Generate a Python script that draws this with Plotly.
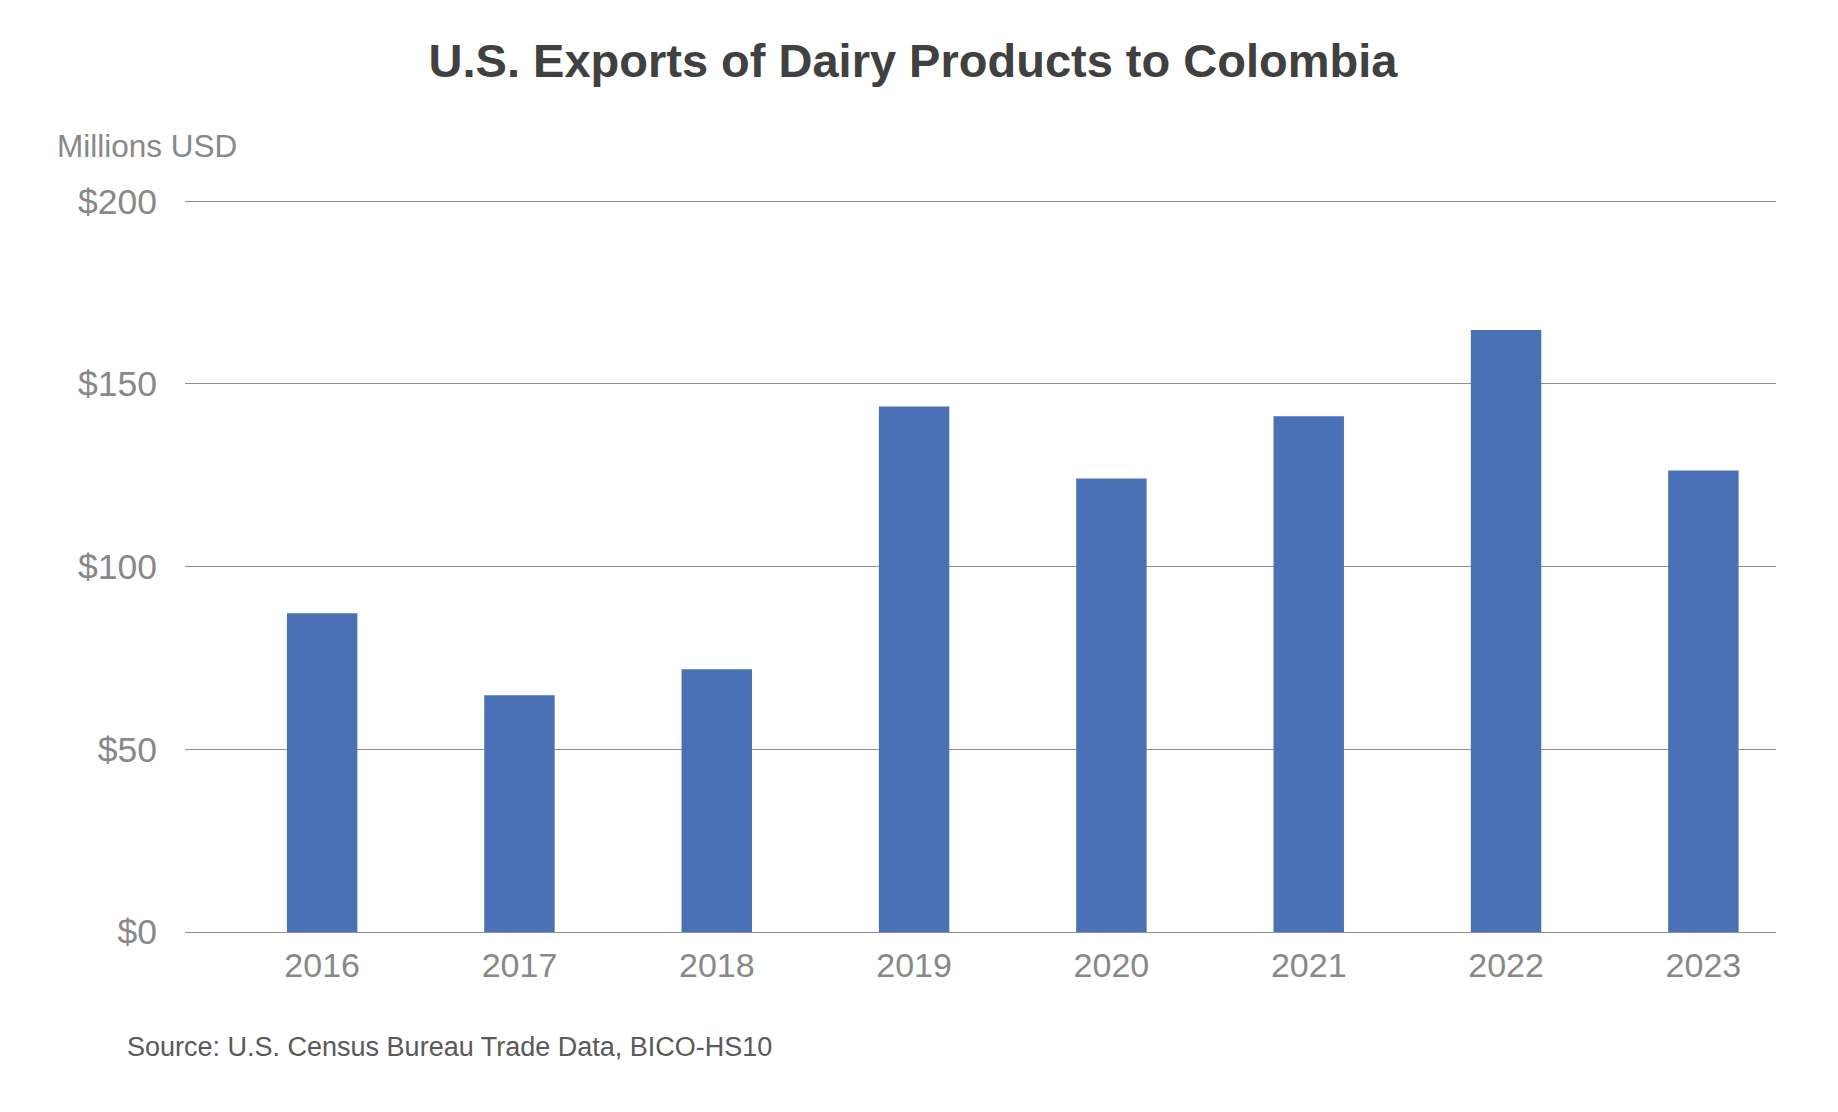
import plotly.graph_objects as go

years = ["2016", "2017", "2018", "2019", "2020", "2021", "2022", "2023"]
exports_musd = [87.2, 64.8, 71.9, 143.8, 124.1, 141.1, 164.7, 126.3]
y_tickvals = [0, 50, 100, 150, 200]
y_ticktext = ["$0", "$50", "$100", "$150", "$200"]

FONT = "Liberation Sans, Arial, Helvetica, sans-serif"

# The page body has an 8px margin, so the figure is sized/offset to compensate.
W, H = 1822, 1096
L, R, T, B = 177, 54, 192, 172
PW, PH = W - L - R, H - T - B

fig = go.Figure(
    go.Bar(
        x=years,
        y=exports_musd,
        marker=dict(color="#4A71B6", line=dict(width=0)),
        width=0.357,
        hoverinfo="x+y",
    )
)

fig.update_layout(
    width=W,
    height=H,
    margin=dict(l=L, r=R, t=T, b=B, pad=0),
    plot_bgcolor="white",
    paper_bgcolor="white",
    showlegend=False,
    font=dict(family=FONT, color="#888888"),
    title=dict(
        text="<b>U.S. Exports of Dairy Products to Colombia</b>",
        x=905 / W,
        xref="container",
        xanchor="center",
        y=1 - 53 / H,
        yref="container",
        yanchor="middle",
        font=dict(family=FONT, size=47, color="#404040"),
    ),
    xaxis=dict(
        type="category",
        range=[-0.695, 7.368],
        showgrid=False,
        showline=False,
        ticks="",
        tickfont=dict(size=34, color="#888888"),
        ticklabelstandoff=10,
        zeroline=False,
    ),
    yaxis=dict(
        range=[0, 200.3],
        tickvals=y_tickvals,
        ticktext=y_ticktext,
        showgrid=True,
        gridcolor="#8F8F8F",
        gridwidth=1,
        zeroline=True,
        zerolinecolor="#8F8F8F",
        zerolinewidth=1,
        showline=False,
        ticks="",
        tickfont=dict(size=35.5, color="#888888"),
        ticklabelstandoff=27,
        fixedrange=True,
    ),
    annotations=[
        dict(
            text="Millions USD",
            xref="paper",
            yref="paper",
            x=(47 - L) / PW,
            y=(H - B - 138.5) / PH,
            xanchor="left",
            yanchor="middle",
            showarrow=False,
            font=dict(family=FONT, size=31.5, color="#888888"),
        ),
        dict(
            text="Source: U.S. Census Bureau Trade Data, BICO-HS10",
            xref="paper",
            yref="paper",
            x=(117 - L) / PW,
            y=(H - B - 1039) / PH,
            xanchor="left",
            yanchor="middle",
            showarrow=False,
            font=dict(family=FONT, size=27, color="#595959"),
        ),
    ],
)

fig.write_html("out.html")
